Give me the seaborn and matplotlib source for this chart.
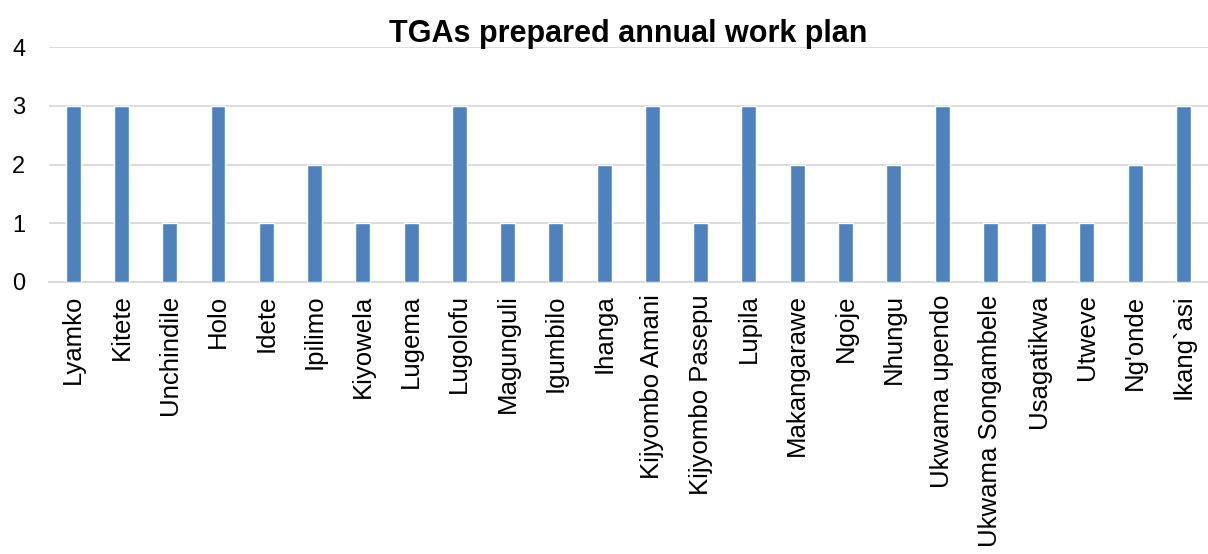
import matplotlib
matplotlib.use("Agg")
import matplotlib.pyplot as plt
import seaborn as sns
import pandas as pd

villages = ["Lyamko", "Kitete", "Unchindile", "Holo", "Idete", "Ipilimo", "Kiyowela",
            "Lugema", "Lugolofu", "Magunguli", "Igumbilo", "Ihanga", "Kijyombo Amani",
            "Kijyombo Pasepu", "Lupila", "Makangarawe", "Ngoje", "Nhungu", "Ukwama upendo",
            "Ukwama Songambele", "Usagatikwa", "Utweve", "Ng'onde", "Ikang`asi"]
plans = [3, 3, 1, 3, 1, 2, 1, 1, 3, 1, 1, 2, 3, 1, 3, 2, 1, 2, 3, 1, 1, 1, 2, 3]

df = pd.DataFrame({"village": villages, "plans": plans})

sns.set_theme(style="white")
plt.rcParams["font.family"] = ["Liberation Sans", "DejaVu Sans"]

fig = plt.figure(figsize=(12.08, 5.54), dpi=100)
ax = fig.add_axes([0.0406, 0.491, 0.959, 0.424])

sns.barplot(data=df, x="village", y="plans", color="#4F81BD", width=0.31,
            saturation=1, ax=ax, zorder=3)

ax.set_ylim(0, 4)
ax.set_yticks([0, 1, 2, 3, 4])
ax.yaxis.grid(True, color="#D9D9D9", linewidth=1.3, zorder=0)
ax.set_axisbelow(True)
for s in ["top", "right", "left"]:
    ax.spines[s].set_visible(False)
ax.spines["bottom"].set_color("#D9D9D9")
ax.spines["bottom"].set_linewidth(1.3)
ax.set_xlabel("")
ax.set_ylabel("")
ax.tick_params(axis="x", labelrotation=90, labelsize=18.5, length=0, pad=9, colors="black")
ax.tick_params(axis="y", labelsize=17, length=0, pad=17, colors="black")
for lbl in ax.get_xticklabels():
    lbl.set_verticalalignment("top")
ax.set_title("TGAs prepared annual work plan", fontsize=22, fontweight="bold", pad=4,
             color="black")

fig.savefig("out.png", dpi=100)
